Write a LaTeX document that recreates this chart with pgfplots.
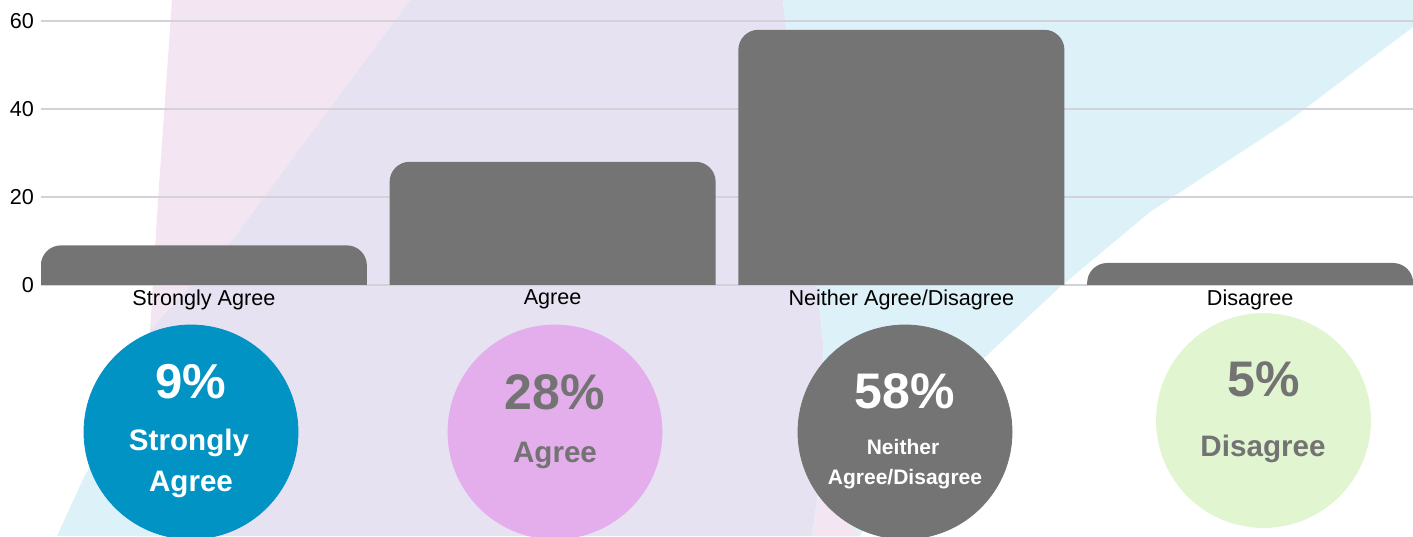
\documentclass[border=0pt]{standalone}
\usepackage{fontspec}
\setmainfont{Liberation Sans}
\usepackage{pgfplots}
\pgfplotsset{compat=1.18}
\definecolor{barc}{RGB}{116,116,116}
\definecolor{gridc}{RGB}{210,210,216}
\definecolor{pinkbg}{RGB}{243,230,242}
\definecolor{lavbg}{RGB}{231,226,241}
\definecolor{cyanbg}{RGB}{221,241,248}
\definecolor{bluec}{RGB}{0,147,196}
\definecolor{pinkc}{RGB}{228,174,236}
\definecolor{greenc}{RGB}{224,245,208}
\definecolor{txtgray}{RGB}{115,115,115}
\pgfplotsset{pixaxis/.style={at={(0pt,0pt)}, anchor=south west, scale only axis,
  width=706.5pt, height=268pt, xmin=0, xmax=1413, ymin=0, ymax=536,
  y dir=reverse, hide axis, clip=true}}
\begin{document}
\begin{tikzpicture}
% background decoration and summary circles (pixel coordinates, y downwards)
\begin{axis}[pixaxis]
\addplot[fill=pinkbg, draw=none] coordinates {(172,0) (410,0) (233,239) (150,330) (152,300) (158,200) (165,100)};
\addplot[fill=lavbg, draw=none] coordinates {(410,0) (783,0) (800,150) (817,284) (823,342) (825,420) (820,480) (812,536) (135,536) (142,430) (150,330) (233,239)};
\addplot[fill=cyanbg, draw=none] coordinates {(783,0) (1413,0) (1413,27) (1290,120) (1150,212) (1060,287) (983,359) (930,420) (890,480) (860,536) (812,536) (820,480) (825,420) (823,342) (817,284) (800,150)};
\addplot[fill=pinkbg, draw=none] coordinates {(812,536) (820,490) (835,505) (860,536)};
\addplot[fill=cyanbg, draw=none] coordinates {(57,536) (85,475) (115,430) (170,420) (170,536)};
% circles
\addplot[only marks, mark=*, mark size=53.5pt, color=bluec] coordinates {(191,432)};
\addplot[only marks, mark=*, mark size=53.5pt, color=pinkc] coordinates {(555,432)};
\addplot[only marks, mark=*, mark size=53.5pt, color=barc] coordinates {(905,432)};
\addplot[only marks, mark=*, mark size=53.5pt, color=greenc] coordinates {(1263.5,420.5)};
\end{axis}
% circle texts
\begin{axis}[pixaxis]
\addplot[draw=none] coordinates {(0,0) (1413,536)};
\node[anchor=base, text=white, font=\fontsize{24.5}{28}\selectfont\bfseries] at (axis cs:191,398) {9\%};
\node[anchor=base, text=white, font=\fontsize{14.8}{17}\selectfont\bfseries] at (axis cs:189,450) {Strongly};
\node[anchor=base, text=white, font=\fontsize{14.8}{17}\selectfont\bfseries] at (axis cs:191,491) {Agree};
\node[anchor=base, text=txtgray, font=\fontsize{25}{28}\selectfont\bfseries] at (axis cs:555,409) {28\%};
\node[anchor=base, text=txtgray, font=\fontsize{14.8}{17}\selectfont\bfseries] at (axis cs:555,462) {Agree};
\node[anchor=base, text=white, font=\fontsize{25}{28}\selectfont\bfseries] at (axis cs:905,408) {58\%};
\node[anchor=base, text=white, font=\fontsize{10.5}{12}\selectfont\bfseries] at (axis cs:903,454) {Neither};
\node[anchor=base, text=white, font=\fontsize{10.5}{12}\selectfont\bfseries] at (axis cs:905,484) {Agree/Disagree};
\node[anchor=base, text=txtgray, font=\fontsize{25}{28}\selectfont\bfseries] at (axis cs:1264,396) {5\%};
\node[anchor=base, text=txtgray, font=\fontsize{14.8}{17}\selectfont\bfseries] at (axis cs:1263,456.5) {Disagree};
\end{axis}
% grid and tick labels
\begin{axis}[at={(20.5pt,125.5pt)}, anchor=south west, scale only axis,
  width=686pt, height=142.5pt,
  xmin=-0.467, xmax=3.467, ymin=0, ymax=64.77,
  xtick={0,1,2,3},
  xticklabels={Strongly Agree, Agree, Neither Agree/Disagree, Disagree},
  ytick={0,20,40,60},
  /pgf/number format/assume math mode=true,
  ymajorgrids, grid style={draw=gridc, line width=0.6pt},
  axis line style={draw=none}, major tick length=0pt,
  ticklabel style={font=\fontsize{10.8}{13}\selectfont, text=black},
  xticklabel style={anchor=north, inner sep=0pt, yshift=-2pt}]
\addplot[draw=none] coordinates {(0,0) (3,60)};
\end{axis}
% bars (their base lies below the zero line and is clipped away)
\begin{scope}
\clip (20.5pt,125.5pt) rectangle (706.5pt,268pt);
\begin{axis}[at={(20.5pt,103.5pt)}, anchor=south west, scale only axis,
  width=686pt, height=164.5pt, hide axis,
  ybar, bar width=163pt,
  xmin=-0.467, xmax=3.467, ymin=0, ymax=74.77]
\addplot[fill=barc, draw=none, rounded corners=10pt, y filter/.expression={y+10}]
  coordinates {(0,9) (1,28) (2,58) (3,5)};
\end{axis}
\end{scope}
\pgfresetboundingbox
\path[use as bounding box] (0pt,0pt) rectangle (706.5pt,268pt);
\end{tikzpicture}
\end{document}
